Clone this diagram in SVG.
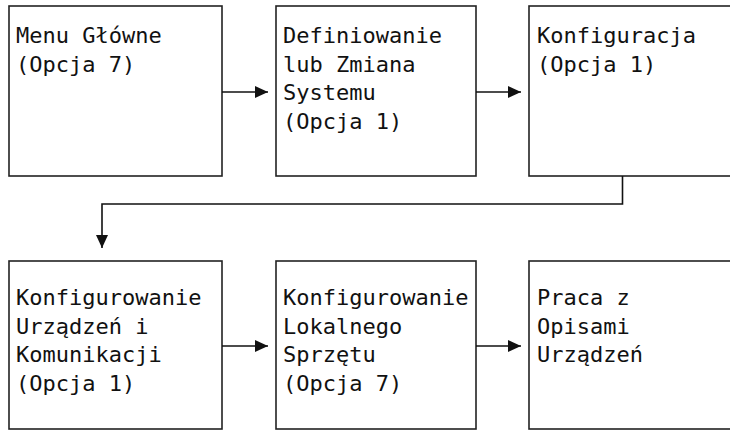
<svg xmlns="http://www.w3.org/2000/svg" width="730" height="431" viewBox="0 0 730 431">
<defs>
<marker id="ah" markerWidth="13" markerHeight="12" refX="13" refY="6" orient="auto" markerUnits="userSpaceOnUse">
<path d="M0,0 L13,6 L0,12 Z" fill="#111"/>
</marker>
<style>
.box{fill:#fff;stroke:#222;stroke-width:1.6}
.t{font-family:"DejaVu Sans Mono","Liberation Mono",monospace;font-size:22px;fill:#111}
.c{fill:none;stroke:#111;stroke-width:1.6}
</style>
</defs>
<rect width="730" height="431" fill="#fff"/>
<g id="n1"><rect class="box" x="9" y="6" width="213" height="170"/>
<text class="t" x="16" y="43">Menu Główne</text><text class="t" x="16" y="71.5">(Opcja 7)</text></g>
<g id="n2"><rect class="box" x="276" y="6" width="200" height="170"/>
<text class="t" x="283" y="43">Definiowanie</text><text class="t" x="283" y="71.5">lub Zmiana</text><text class="t" x="283" y="100">Systemu</text><text class="t" x="283" y="128.5">(Opcja 1)</text></g>
<g id="n3"><rect class="box" x="529" y="6" width="220" height="170"/>
<text class="t" x="537" y="43">Konfiguracja</text><text class="t" x="537" y="71.5">(Opcja 1)</text></g>
<g id="n4"><rect class="box" x="9" y="261" width="213" height="168"/>
<text class="t" x="16" y="305">Konfigurowanie</text><text class="t" x="16" y="333.5">Urządzeń i</text><text class="t" x="16" y="362">Komunikacji</text><text class="t" x="16" y="390.5">(Opcja 1)</text></g>
<g id="n5"><rect class="box" x="276" y="261" width="200" height="168"/>
<text class="t" x="283" y="305">Konfigurowanie</text><text class="t" x="283" y="333.5">Lokalnego</text><text class="t" x="283" y="362">Sprzętu</text><text class="t" x="283" y="390.5">(Opcja 7)</text></g>
<g id="n6"><rect class="box" x="529" y="261" width="220" height="168"/>
<text class="t" x="537" y="305">Praca z</text><text class="t" x="537" y="333.5">Opisami</text><text class="t" x="537" y="362">Urządzeń</text></g>
<g id="connectors">
<path class="c" d="M222,92 H268" marker-end="url(#ah)"/>
<path class="c" d="M476,92 H521" marker-end="url(#ah)"/>
<path class="c" d="M622.5,176 V204 H102 V248" marker-end="url(#ah)"/>
<path class="c" d="M222,346 H268" marker-end="url(#ah)"/>
<path class="c" d="M476,346 H521" marker-end="url(#ah)"/>
</g>
</svg>
